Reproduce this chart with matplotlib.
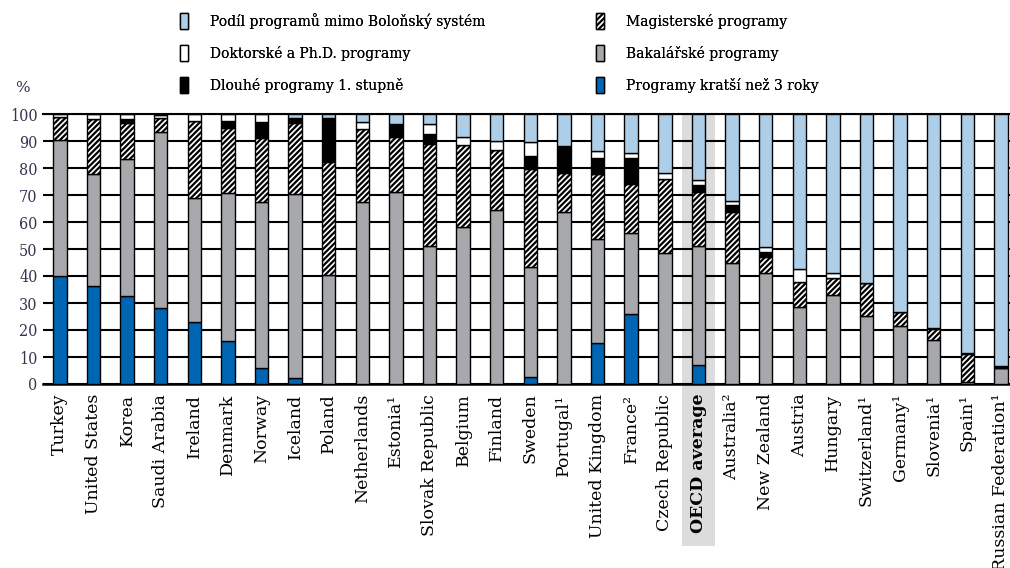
import matplotlib
matplotlib.use("Agg")
import matplotlib.pyplot as plt
from matplotlib.patches import Rectangle
import numpy as np

countries = ["Turkey", "United States", "Korea", "Saudi Arabia", "Ireland",
             "Denmark", "Norway", "Iceland", "Poland", "Netherlands",
             "Estonia¹", "Slovak Republic", "Belgium", "Finland", "Sweden",
             "Portugal¹", "United Kingdom", "France²", "Czech Republic",
             "OECD average", "Australia²", "New Zealand", "Austria", "Hungary",
             "Switzerland¹", "Germany¹", "Slovenia¹", "Spain¹",
             "Russian Federation¹"]

# stacked shares in %, bottom to top
kratsi = [40.0, 36.3, 32.5, 28.0, 23.0, 15.9, 5.8, 2.1, 0, 0,
          0, 0, 0, 0, 2.7, 0, 15.3, 26.0, 0,
          7.0, 0, 0, 0, 0, 0, 0, 0, 0, 0]
bakalarske = [50.5, 41.5, 51.0, 65.5, 46.0, 55.0, 61.7, 68.1, 40.4, 67.5,
              71.2, 51.2, 58.0, 64.4, 40.8, 63.8, 38.4, 30.0, 48.6,
              44.2, 44.9, 41.0, 28.4, 33.0, 25.3, 21.5, 16.3, 0.9, 5.8]
magisterske = [8.5, 20.2, 13.0, 5.1, 28.4, 23.8, 23.5, 26.3, 41.7, 26.9,
               20.2, 37.6, 30.5, 22.3, 36.1, 14.5, 24.0, 18.1, 27.3,
               19.8, 18.9, 6.2, 9.5, 6.1, 12.2, 5.3, 3.9, 10.1, 0]
dlouhe = [0, 0, 1.6, 0, 0, 2.8, 5.9, 1.9, 16.5, 0,
          4.9, 3.7, 0, 0, 4.8, 10.0, 6.1, 9.7, 0,
          2.7, 2.5, 1.8, 0, 0, 0, 0, 0.4, 0.4, 0.9]
doktorske = [1.0, 2.0, 1.9, 1.0, 2.6, 2.5, 3.1, 0, 0, 2.8,
             0, 3.7, 2.9, 3.3, 5.4, 0, 2.6, 1.6, 2.4,
             1.9, 1.5, 1.6, 4.6, 2.1, 0, 0, 0, 0, 0]
mimo = [0, 0, 0, 0.4, 0, 0, 0, 1.6, 1.4, 2.8,
        3.7, 3.8, 8.6, 10.0, 10.2, 11.7, 13.6, 14.6, 21.7,
        24.4, 32.2, 49.4, 57.5, 58.8, 62.5, 73.2, 79.4, 88.6, 93.3]

c_mimo = "#aecde6"
c_grey = "#a7a8ab"
c_blue = "#0066b3"

plt.rcParams["hatch.linewidth"] = 1.6

fig = plt.figure(figsize=(10.1, 5.68), dpi=100)
ax = fig.add_axes([43 / 1010, 1 - 384 / 568, 1 - 43 / 1010, 270 / 568])

x = np.arange(len(countries))
w = 0.4

layers = [
    (kratsi, dict(color=c_blue), "Programy kratší než 3 roky"),
    (bakalarske, dict(color=c_grey), "Bakalářské programy"),
    (magisterske, dict(color="white", hatch="//////"), "Magisterské programy"),
    (dlouhe, dict(color="black"), "Dlouhé programy 1. stupně"),
    (doktorske, dict(color="white"), "Doktorské a Ph.D. programy"),
    (mimo, dict(color=c_mimo), "Podíl programů mimo Boloňský systém"),
]

bottom = np.zeros(len(countries))
handles = {}
for vals, style, label in layers:
    v = np.array(vals)
    bars = ax.bar(x, v, w, bottom=bottom, edgecolor="black", linewidth=1.0,
                  label=label, zorder=3, **style)
    handles[label] = bars
    bottom += v

# OECD highlight band
oecd = countries.index("OECD average")
ax.add_patch(Rectangle((oecd - 0.5, -60), 1.0, 160, facecolor="#dcdcdc",
                       edgecolor="none", zorder=0, clip_on=False))

ax.set_ylim(0, 100)
ax.set_xlim(-0.5, 28.27)
ax.set_yticks(range(0, 101, 10))
ax.yaxis.grid(True, color="black", linewidth=1.5, zorder=1)
ax.set_axisbelow(True)
for s in ["right", "left"]:
    ax.spines[s].set_visible(False)
ax.spines["top"].set_linewidth(1.5)
ax.spines["bottom"].set_linewidth(1.8)
ax.tick_params(axis="y", length=0, pad=4, labelsize=11.5, labelcolor="#34344f")
ax.tick_params(axis="x", length=0, pad=7)
for t in ax.get_yticklabels():
    t.set_fontfamily("DejaVu Serif")
    t.set_fontstretch("condensed")

ax.set_xticks(x)
ax.set_xticklabels(countries, rotation=90, fontsize=12.5, family="DejaVu Serif",
                   va="top", ha="center")
ax.get_xticklabels()[oecd].set_fontweight("bold")

fig.text(22 / 1010, 1 - 88 / 568, "%", fontsize=11, family="DejaVu Serif",
         color="#34344f", ha="center", va="center")

legfont = dict(family="DejaVu Serif", size=10)
col1 = ["Podíl programů mimo Boloňský systém", "Doktorské a Ph.D. programy",
        "Dlouhé programy 1. stupně"]
col2 = ["Magisterské programy", "Bakalářské programy", "Programy kratší než 3 roky"]
for names, xpos in [(col1, 173), (col2, 589)]:
    leg = fig.legend([handles[n] for n in names], names, loc="upper left",
                     bbox_to_anchor=(xpos / 1010, 1 - 6 / 568), frameon=False,
                     prop=legfont, handlelength=0.6, handleheight=1.4,
                     handletextpad=1.6, labelspacing=1.15, borderpad=0)
    fig.add_artist(leg)

fig.savefig("out.png", dpi=100)
